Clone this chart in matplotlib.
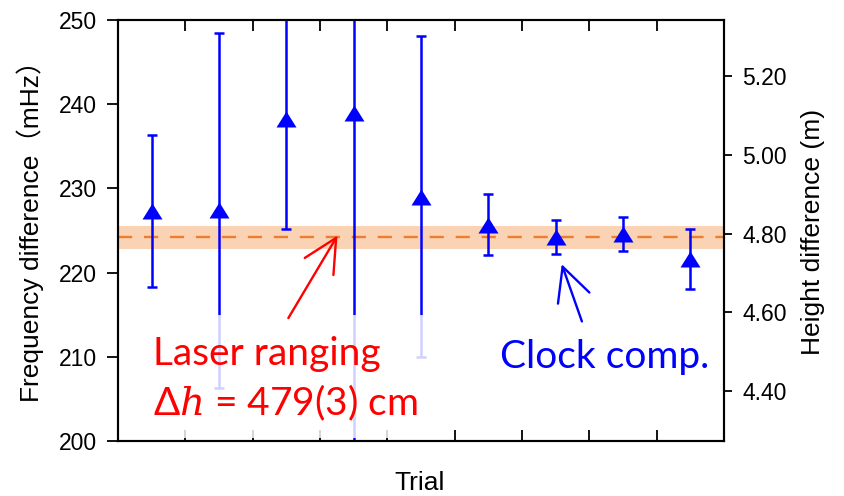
import matplotlib
matplotlib.use("Agg")
import matplotlib.pyplot as plt
from matplotlib.path import Path
from matplotlib.patches import Rectangle

# Measured frequency differences per trial (mHz) and their uncertainties
trials = [1, 2, 3, 4, 5, 6, 7, 8, 9]
freq_diff = [227.3, 227.4, 238.3, 239.0, 229.0, 225.7, 224.2, 224.6, 221.6]
freq_err = [9.0, 21.1, 13.1, 40.0, 19.05, 3.6, 2.0, 2.0, 3.6]

# Laser-ranging reference height and the gravitational redshift coefficient
laser_h = 4.79      # m
laser_h_err = 0.03  # m
mhz_per_m = 46.8    # mHz per metre

left_ticks = [200, 210, 220, 230, 240, 250]
right_ticks = [4.40, 4.60, 4.80, 5.00, 5.20]

plt.rcParams["font.family"] = ["Liberation Sans", "DejaVu Sans"]
plt.rcParams["mathtext.fontset"] = "custom"
plt.rcParams["mathtext.it"] = "DejaVu Serif:italic"
plt.rcParams["mathtext.rm"] = "Lato"

fig = plt.figure(figsize=(8.44, 4.96), dpi=100)
ax = fig.add_axes([118 / 844, 55 / 496, 606 / 844, 421 / 496])

ymin, ymax = 200, 250
ax.set_xlim(0.5, 9.5)
ax.set_ylim(ymin, ymax)

# reference band from laser ranging
f_ref = laser_h * mhz_per_m
f_ref_err = laser_h_err * mhz_per_m
ax.axhspan(f_ref - f_ref_err, f_ref + f_ref_err, color="#F9D3B4", lw=0, zorder=1)
ax.axhline(f_ref, color="#ED7D31", lw=1.7, dashes=(6, 5), zorder=1.2)

tri = Path([(0, 0.8), (-1, -0.8), (1, -0.8), (0, 0.8)],
           [Path.MOVETO, Path.LINETO, Path.LINETO, Path.CLOSEPOLY])
ax.errorbar(trials, freq_diff, yerr=freq_err, fmt="none", ecolor="#0000FF",
            elinewidth=1.8, capsize=3.4, capthick=1.8, zorder=2)
ax.plot(trials, freq_diff, linestyle="none", marker=tri, markersize=14.4,
        color="#0000FF", markeredgewidth=0, zorder=2.1)

# semi-opaque backing behind the laser-ranging caption
ax.add_patch(Rectangle((1.4, ymin + 0.3), 4.0, 215 - ymin - 0.3,
                       facecolor="white", edgecolor="none", alpha=0.82, zorder=2.4))

for s in ax.spines.values():
    s.set_linewidth(1.5)
    s.set_zorder(3)

ax.set_xticks([1.5, 2.5, 3.5, 4.5, 5.5, 6.5, 7.5, 8.5])
ax.tick_params(axis="x", which="both", direction="in", length=8, width=1.3,
               top=True, bottom=True, labelbottom=False)
ax.set_yticks(left_ticks)
ax.tick_params(axis="y", direction="out", length=8, width=1.3, pad=7, labelsize=16.5)

ax2 = ax.twinx()
ax2.set_ylim(ymin / mhz_per_m, ymax / mhz_per_m)
ax2.set_yticks(right_ticks)
ax2.set_yticklabels([f"{t:.2f}" for t in right_ticks])
ax2.tick_params(axis="y", direction="out", length=6, width=1.3, pad=7, labelsize=16.5)
for s in ax2.spines.values():
    s.set_linewidth(1.5)

# annotations
arrow_kw = dict(arrowstyle="->,head_length=1.2,head_width=0.6", lw=1.7,
                shrinkA=0, shrinkB=0, mutation_scale=20)
ax.annotate("", xy=(3.76, 224.4), xytext=(3.03, 214.6),
            arrowprops=dict(color="#FF0000", **arrow_kw), zorder=4)
ax.annotate("", xy=(7.09, 221.0), xytext=(7.39, 214.2),
            arrowprops=dict(color="#0000FF", **arrow_kw), zorder=4)

fig.text(153 / 844, 1 - 365 / 496, "Laser ranging", color="#FF0000",
         fontsize=28, family="Lato", ha="left", va="baseline", zorder=5)
fig.text(153 / 844, 1 - 415 / 496, r"$\Delta h$ = 479(3) cm", color="#FF0000",
         fontsize=28, family="Lato", ha="left", va="baseline", zorder=5)
fig.text(500 / 844, 1 - 368 / 496, "Clock comp.", color="#0000FF",
         fontsize=28, family="Lato", ha="left", va="baseline", zorder=5)

fig.text(30 / 844, 1 - 225 / 496, "Frequency difference（mHz）", rotation=90,
         fontsize=19, family=["Liberation Sans", "Noto Sans CJK JP"],
         ha="center", va="center")
fig.text(813 / 844, 1 - 232 / 496, "Height difference (m)", rotation=90,
         fontsize=19, ha="center", va="center")
fig.text(420 / 844, 6 / 496, "Trial", fontsize=19, ha="center", va="baseline")

fig.savefig("out.png", dpi=100)
